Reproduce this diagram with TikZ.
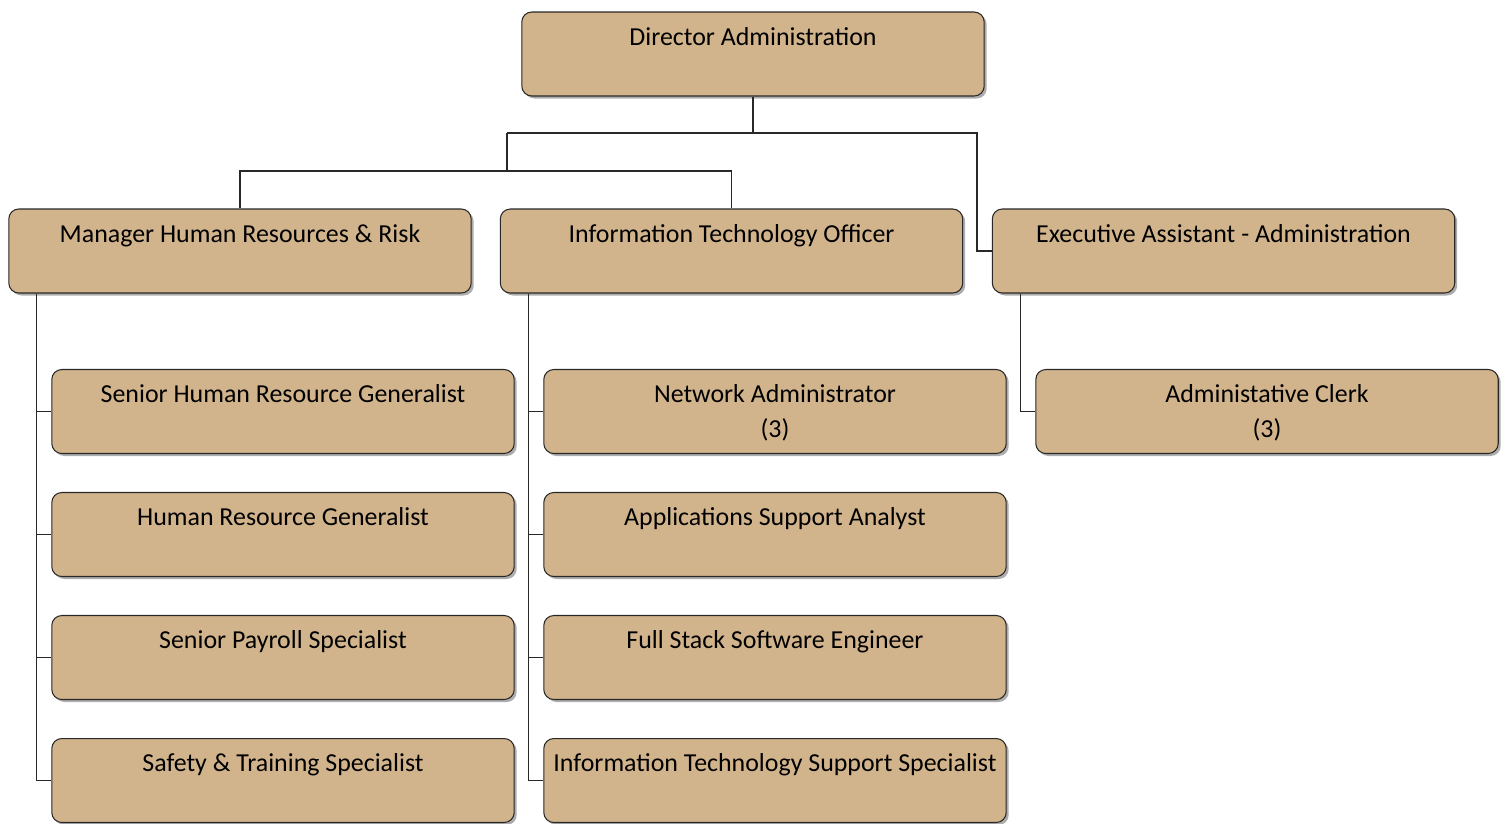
\documentclass[tikz,border=0pt]{standalone}
\usepackage{fontspec}
\setmainfont{Carlito}
\usetikzlibrary{shadows}
\definecolor{boxtan}{RGB}{210,180,140}
\definecolor{boxline}{RGB}{40,40,40}

\tikzset{
  orgbox/.style={rectangle, rounded corners=0.2cm, draw=boxline, line width=0.6pt,
    fill=boxtan, minimum width=9.25cm, minimum height=1.68cm, inner sep=0pt,
    drop shadow={shadow xshift=0.05cm, shadow yshift=-0.05cm, fill=black!40, opacity=0.8}},
  boxtext/.style={anchor=north, inner sep=0pt, yshift=-0.31cm, align=center,
    font=\fontsize{14.75}{19.5}\selectfont},
  link/.style={draw=boxline, line width=0.6pt}
}

\begin{document}
\begin{tikzpicture}[x=0.02cm, y=-0.02cm]
  \useasboundingbox (0,0) rectangle (1507,823);

  % top level
  \node[orgbox, label={[boxtext]north:Director Administration}] (dir) at (753,54) {};

  % second level
  \node[orgbox, label={[boxtext]north:Manager Human Resources \& Risk}] (hrm) at (240,251) {};
  \node[orgbox, label={[boxtext]north:Information Technology Officer}] (ito) at (731.5,251) {};
  \node[orgbox, label={[boxtext]north:Executive Assistant - Administration}] (exa) at (1223.5,251) {};

  % human resources staff
  \node[orgbox, label={[boxtext]north:Senior Human Resource Generalist}] (hr1) at (283,411.5) {};
  \node[orgbox, label={[boxtext]north:Human Resource Generalist}] (hr2) at (283,534.5) {};
  \node[orgbox, label={[boxtext]north:Senior Payroll Specialist}] (hr3) at (283,657.5) {};
  \node[orgbox, label={[boxtext]north:Safety \& Training Specialist}] (hr4) at (283,780.5) {};

  % information technology staff
  \node[orgbox, label={[boxtext]north:Network Administrator\\(3)}] (it1) at (775,411.5) {};
  \node[orgbox, label={[boxtext]north:Applications Support Analyst}] (it2) at (775,534.5) {};
  \node[orgbox, label={[boxtext]north:Full Stack Software Engineer}] (it3) at (775,657.5) {};
  \node[orgbox, label={[boxtext]north:Information Technology Support Specialist}] (it4) at (775,780.5) {};

  % administration staff
  \node[orgbox, label={[boxtext]north:Administative Clerk\\(3)}] (ex1) at (1267,411.5) {};

  % connectors
  \coordinate (jmid) at (753,133);
  \coordinate (jleft) at (507,133);
  \coordinate (jright) at (977,133);
  \coordinate (jsub) at (507,171);
  \draw[link] (dir.south) -- (jmid);
  \draw[link] (jleft) -- (jright) |- (exa.west);
  \draw[link] (jleft) -- (jsub);
  \draw[link] (hrm.north) |- (jsub) -| (ito.north);

  \foreach \c in {hr1,hr2,hr3,hr4}
    \draw[link] ([xshift=0.56cm]hrm.south west) |- (\c.west);
  \foreach \c in {it1,it2,it3,it4}
    \draw[link] ([xshift=0.58cm]ito.south west) |- (\c.west);
  \draw[link] ([xshift=0.58cm]exa.south west) |- (ex1.west);
\end{tikzpicture}
\end{document}
